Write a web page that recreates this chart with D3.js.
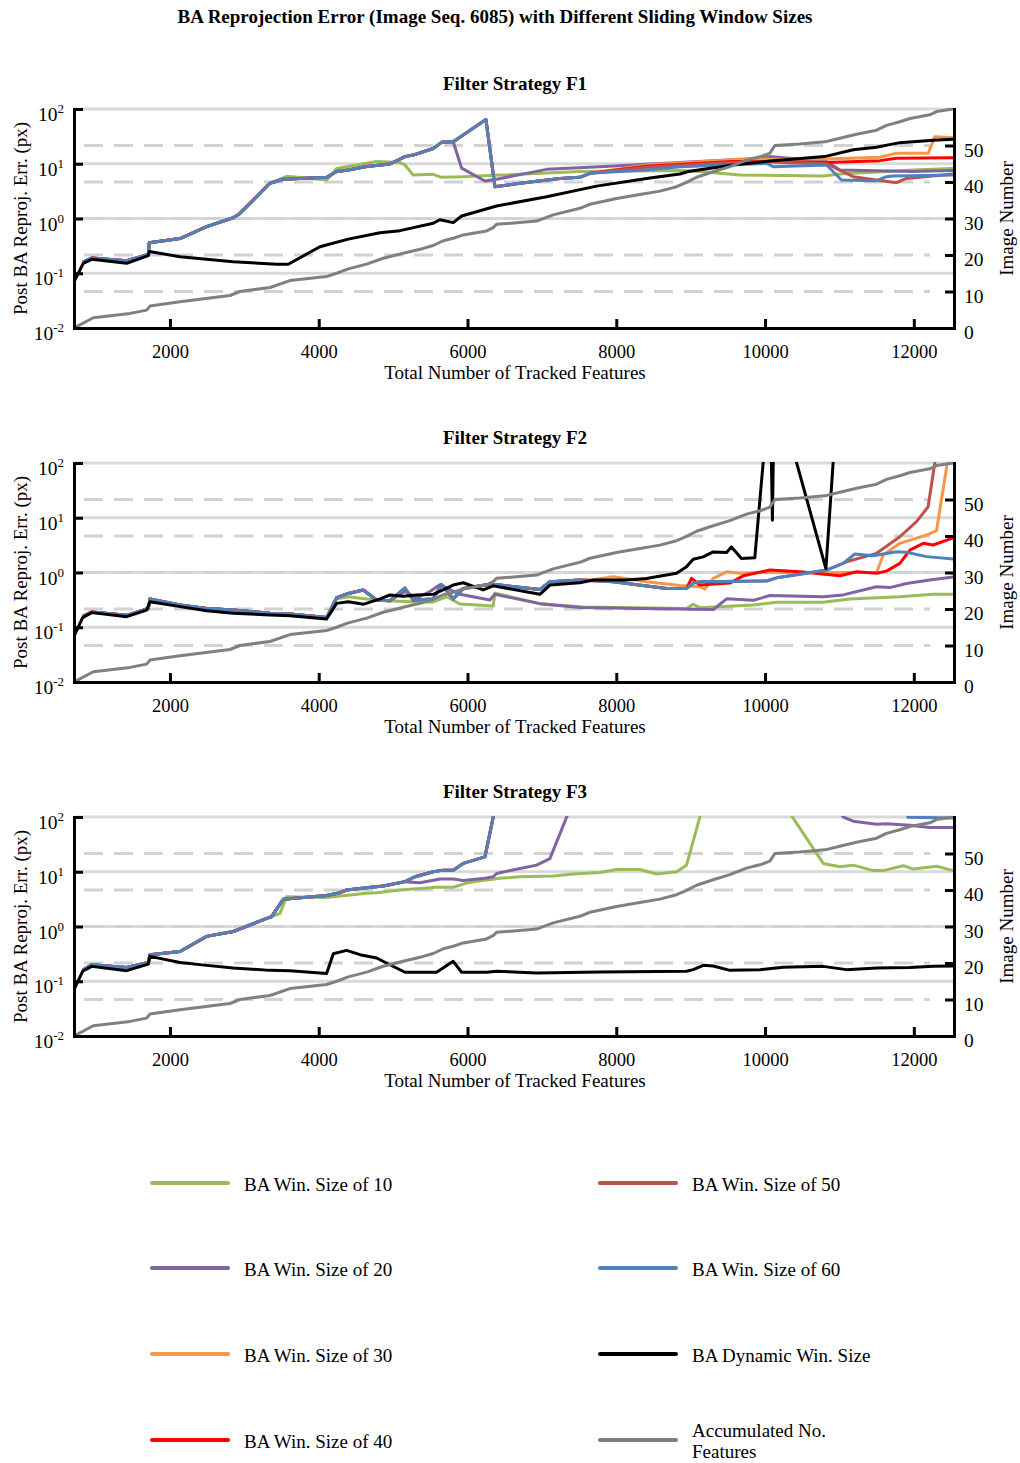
<!DOCTYPE html>
<html><head><meta charset="utf-8">
<script src="https://cdn.jsdelivr.net/npm/d3@7"></script>
<style>body{margin:0;background:#fff}svg{display:block;font-family:"Liberation Serif","Times New Roman",serif}</style>
</head><body><svg id="c" width="1020" height="1463"></svg>
<script>
// ---------------- DATA ----------------
const xTicks = [2000, 4000, 6000, 8000, 10000, 12000];
const logTicks = [0.01, 0.1, 1, 10, 100];
const logExp = ["-2", "-1", "0", "1", "2"];
const imgTicks = [0, 10, 20, 30, 40, 50];
const panelTitles = ["Filter Strategy F1", "Filter Strategy F2", "Filter Strategy F3"];
const seriesNames = ["BA Win. Size of 10", "BA Win. Size of 20", "BA Win. Size of 30", "BA Win. Size of 40",
  "BA Win. Size of 50", "BA Win. Size of 60", "BA Dynamic Win. Size", "Accumulated No. Features"];
const seriesColors = ["#9BBB59", "#8064A2", "#F79646", "#FF0000", "#C0504D", "#4F81BD", "#000000", "#808080"];

// Accumulated image number vs total tracked features (right axis), same in all panels
const imageNumber = [[710,0],[970,2.8],[1463,4.0],[1687,4.9],[1731,6.0],[2135,7.2],[2807,8.9],[2941,10.0],[3344,11.1],[3613,13.0],[4106,14.1],[4241,15.0],[4397,16.2],[4644,17.5],[4867,19.1],[5136,20.5],[5405,21.8],[5539,22.6],[5674,23.9],[5808,24.6],[5942,25.5],[6256,26.6],[6345,27.5],[6390,28.4],[6929,29.3],[7152,31.0],[7511,32.8],[7646,33.9],[8004,35.5],[8317,36.6],[8586,37.5],[8810,38.7],[8945,39.9],[9079,41.3],[9303,42.8],[9527,44.2],[9751,46.0],[9930,46.9],[10065,47.9],[10132,50.0],[10468,50.4],[10804,51.0],[11006,52.0],[11230,53.1],[11499,54.2],[11633,55.5],[11812,56.5],[11947,57.4],[12215,58.4],[12305,59.3],[12528,60]];

// ---- Filter Strategy F1 ----
const f1Win10 = [[830,0.16],[947,0.19],[1418,0.17],[1709,0.22],[1722,0.36],[2135,0.43],[2493,0.71],[2851,1.03],[2941,1.24],[3344,4.4],[3568,5.9],[4106,5.05],[4241,8.2],[4397,8.9],[4778,11],[5092,10.5],[5159,9.5],[5270,6.2],[5539,6.4],[5651,5.65],[5942,5.8],[6436,6.2],[7511,7.2],[8855,7.5],[9124,7.2],[9661,6.2],[10781,6.0],[11006,6.5],[11991,7.7],[12529,8.2]];
const f1Win20 = [[830,0.16],[947,0.19],[1418,0.17],[1709,0.22],[1722,0.36],[2135,0.43],[2493,0.71],[2851,1.03],[2941,1.24],[3344,4.4],[3523,5.2],[4106,5.65],[4241,7.2],[4397,7.7],[4644,8.9],[4957,9.9],[5159,13.5],[5270,14.4],[5539,19],[5651,24.6],[5808,25.3],[5921,8.3],[6234,4.85],[6391,5.2],[7063,7.9],[7780,8.8],[8855,10.5],[9930,12.6],[10065,13.5],[10826,11],[11006,7.7],[11991,7.2],[12529,7.5]];
const f1Win30 = [[830,0.16],[947,0.19],[1418,0.17],[1709,0.22],[1722,0.36],[2135,0.43],[2493,0.71],[2851,1.03],[2941,1.24],[3344,4.4],[3523,5.2],[4106,5.65],[4241,7.2],[4397,7.7],[4644,8.9],[4957,9.9],[5159,13.5],[5270,14.4],[5539,19],[5651,24.6],[5808,25.3],[6248,64],[6369,3.8],[6705,4.4],[7242,5.4],[7511,5.65],[7646,6.7],[8407,9.5],[8855,10.3],[9567,11.8],[10065,12.1],[10826,12.2],[11543,13.1],[11767,15.5],[12193,15.5],[12282,31],[12529,30]];
const f1Win40 = [[830,0.16],[947,0.19],[1418,0.17],[1709,0.22],[1722,0.36],[2135,0.43],[2493,0.71],[2851,1.03],[2941,1.24],[3344,4.4],[3523,5.2],[4106,5.65],[4241,7.2],[4397,7.7],[4644,8.9],[4957,9.9],[5159,13.5],[5270,14.4],[5539,19],[5651,24.6],[5808,25.3],[6248,64],[6369,3.8],[6705,4.4],[7242,5.4],[7511,5.65],[7646,6.7],[8407,9.0],[9567,11],[10065,11],[10826,10.5],[11543,11.4],[11767,12.6],[12529,12.9]];
const f1Win50 = [[830,0.16],[947,0.19],[1418,0.17],[1709,0.22],[1722,0.36],[2135,0.43],[2493,0.71],[2851,1.03],[2941,1.24],[3344,4.4],[3523,5.2],[4106,5.65],[4241,7.2],[4397,7.7],[4644,8.9],[4957,9.9],[5159,13.5],[5270,14.4],[5539,19],[5651,24.6],[5808,25.3],[6248,64],[6369,3.8],[6705,4.4],[7242,5.4],[7511,5.65],[7646,6.7],[8407,8.6],[9567,10.5],[10065,10.8],[10826,10],[11185,5.8],[11498,5.05],[11767,4.5],[11902,5.4],[12529,6.5]];
const f1Win60 = [[830,0.16],[947,0.19],[1418,0.17],[1709,0.22],[1722,0.36],[2135,0.43],[2493,0.71],[2851,1.03],[2941,1.24],[3344,4.4],[3523,5.2],[4106,5.65],[4241,7.2],[4397,7.7],[4644,8.9],[4957,9.9],[5159,13.5],[5270,14.4],[5539,19],[5651,24.6],[5808,25.3],[6248,64],[6369,3.8],[6705,4.4],[7242,5.4],[7511,5.65],[7646,6.7],[8407,7.7],[8855,8.8],[9124,9.1],[10020,10.2],[10110,8.8],[10826,9.5],[11028,5.05],[11498,4.9],[11633,5.8],[11722,6.0],[12529,6.2]];
const f1Dynamic = [[710,0.07],[835,0.152],[948,0.18],[1418,0.152],[1709,0.21],[1722,0.25],[2135,0.2],[2851,0.163],[3434,0.146],[3590,0.146],[4016,0.305],[4397,0.42],[4823,0.55],[5092,0.6],[5539,0.82],[5629,0.95],[5808,0.84],[5921,1.11],[6391,1.69],[7063,2.5],[7735,3.9],[8452,5.5],[8855,6.5],[8967,7.2],[9567,9.5],[10065,11.2],[10800,13.5],[11185,18],[11498,20],[11812,24.3],[12259,27],[12528,28]];

// ---- Filter Strategy F2 ----
const f2Win10 = [[830,0.16],[947,0.19],[1418,0.165],[1709,0.22],[1731,0.327],[2135,0.255],[2493,0.22],[2851,0.206],[3344,0.18],[3613,0.175],[4106,0.15],[4241,0.33],[4397,0.36],[4778,0.31],[5315,0.29],[5539,0.29],[5719,0.36],[5898,0.266],[6346,0.245],[6368,0.42],[6973,0.27],[7556,0.235],[8228,0.228],[8945,0.22],[9034,0.263],[9124,0.228],[9841,0.255],[10155,0.285],[10781,0.285],[11140,0.327],[11812,0.36],[12260,0.4],[12528,0.4]];
const f2Win20 = [[830,0.16],[947,0.19],[1418,0.165],[1709,0.22],[1731,0.327],[2135,0.255],[2493,0.22],[2851,0.206],[3344,0.18],[3613,0.175],[4106,0.15],[4241,0.347],[4397,0.415],[4599,0.478],[4778,0.314],[4957,0.305],[5158,0.45],[5315,0.34],[5495,0.45],[5629,0.6],[5898,0.4],[6301,0.315],[6368,0.40],[6973,0.27],[7511,0.23],[8317,0.22],[9303,0.21],[9483,0.33],[9841,0.31],[10065,0.38],[10781,0.36],[11050,0.39],[11499,0.55],[11678,0.53],[11902,0.63],[12215,0.73],[12528,0.83]];
const f2Win30 = [[830,0.16],[947,0.19],[1418,0.165],[1709,0.22],[1731,0.327],[2135,0.255],[2493,0.22],[2851,0.206],[3344,0.18],[3613,0.175],[4106,0.15],[4241,0.347],[4397,0.415],[4599,0.478],[4778,0.314],[4957,0.305],[5158,0.52],[5270,0.314],[5539,0.327],[5651,0.6],[5808,0.33],[5942,0.51],[6256,0.6],[6436,0.59],[6973,0.49],[7108,0.68],[7511,0.73],[7690,0.74],[7959,0.84],[8407,0.68],[8855,0.58],[9124,0.55],[9190,0.5],[9303,0.78],[9483,1.03],[9662,0.97],[10020,1.0],[10600,1.0],[11499,1.0],[11589,2.1],[11812,3.41],[12171,4.84],[12305,5.8],[12450,100],[12520,400]];
const f2Win40 = [[830,0.16],[947,0.19],[1418,0.165],[1709,0.22],[1731,0.327],[2135,0.255],[2493,0.22],[2851,0.206],[3344,0.18],[3613,0.175],[4106,0.15],[4241,0.347],[4397,0.415],[4599,0.478],[4778,0.314],[4957,0.305],[5158,0.52],[5270,0.314],[5539,0.327],[5651,0.6],[5808,0.33],[5942,0.51],[6256,0.6],[6436,0.59],[6973,0.49],[7108,0.68],[7511,0.73],[7959,0.68],[8676,0.51],[8945,0.51],[9011,0.78],[9124,0.59],[9527,0.64],[9706,0.87],[10065,1.11],[10468,1.03],[11006,0.87],[11230,1.03],[11499,0.97],[11633,1.06],[11812,1.47],[11947,2.57],[12126,3.41],[12260,3.18],[12528,4.3]];
const f2Win50 = [[830,0.16],[947,0.19],[1418,0.165],[1709,0.22],[1731,0.327],[2135,0.255],[2493,0.22],[2851,0.206],[3344,0.18],[3613,0.175],[4106,0.15],[4241,0.347],[4397,0.415],[4599,0.478],[4778,0.314],[4957,0.305],[5158,0.52],[5270,0.314],[5539,0.327],[5651,0.6],[5808,0.33],[5942,0.51],[6256,0.6],[6436,0.59],[6973,0.49],[7108,0.68],[7511,0.73],[7959,0.68],[8676,0.51],[8945,0.51],[9034,0.64],[9124,0.68],[10020,0.70],[10155,0.80],[10468,0.93],[10826,1.11],[11095,1.57],[11499,2.24],[11812,4.5],[12036,8.5],[12192,15.9],[12282,100],[12350,400]];
const f2Win60 = [[830,0.16],[947,0.19],[1418,0.165],[1709,0.22],[1731,0.327],[2135,0.255],[2493,0.22],[2851,0.206],[3344,0.18],[3613,0.175],[4106,0.15],[4241,0.347],[4397,0.415],[4599,0.478],[4778,0.314],[4957,0.305],[5158,0.52],[5270,0.314],[5539,0.327],[5651,0.6],[5808,0.33],[5942,0.51],[6256,0.6],[6436,0.59],[6973,0.49],[7108,0.68],[7511,0.73],[7959,0.68],[8676,0.51],[8945,0.51],[9034,0.64],[9124,0.68],[10020,0.70],[10155,0.80],[10468,0.93],[10826,1.11],[11050,1.47],[11207,2.18],[11454,2.03],[11767,2.4],[11902,2.34],[12171,1.95],[12528,1.77]];
const f2Dynamic = [[710,0.068],[826,0.15],[947,0.185],[1418,0.156],[1687,0.206],[1731,0.293],[2135,0.238],[2493,0.2],[2851,0.18],[3344,0.168],[3613,0.163],[4106,0.142],[4241,0.273],[4397,0.293],[4599,0.262],[4823,0.33],[4957,0.388],[5136,0.37],[5315,0.39],[5539,0.40],[5808,0.59],[5942,0.65],[6212,0.48],[6346,0.57],[6973,0.40],[7108,0.59],[7511,0.65],[7690,0.73],[8138,0.73],[8407,0.78],[8810,0.97],[8945,1.28],[9034,1.74],[9168,1.93],[9303,2.38],[9482,2.31],[9548,2.93],[9683,1.8],[9862,1.85],[10000,250],[10060,10000],[10099,9],[10130,10000],[10290,460],[10818,1.18],[10950,500],[12528,500]];

// ---- Filter Strategy F3 ----
const f3Win10 = [[830,0.16],[947,0.2],[1418,0.178],[1709,0.22],[1731,0.306],[2135,0.35],[2493,0.66],[2851,0.81],[3299,1.41],[3366,1.51],[3479,1.74],[3568,3.5],[4106,3.4],[4644,4.04],[4778,4.15],[5092,4.64],[5584,5.2],[5808,5.2],[5987,6.2],[6256,7.1],[6436,7.6],[6705,8.1],[7153,8.4],[7422,9.1],[7780,9.7],[8004,11],[8317,11],[8542,9.1],[8810,10],[8945,13.2],[9250,420],[10200,220],[10782,14.2],[11006,12.3],[11185,13.2],[11454,10.5],[11589,10.5],[11857,12.9],[11991,11.2],[12305,12.6],[12529,10.5]];
const f3Win20 = [[830,0.16],[947,0.2],[1418,0.178],[1709,0.22],[1731,0.306],[2135,0.35],[2493,0.66],[2851,0.81],[3299,1.41],[3366,1.51],[3523,3.14],[4106,3.67],[4285,4.15],[4375,4.64],[4644,5.1],[4868,5.5],[5159,6.6],[5360,6.3],[5629,7.4],[5808,7.4],[5942,6.9],[6234,7.6],[6346,8.1],[6391,9.3],[6705,11.5],[6929,13.2],[7108,17.4],[7511,400],[10900,200],[11051,100],[11185,84],[11499,73.6],[11633,75.6],[11947,70.5],[12215,64],[12528,64]];
const f3Win30 = [[830,0.16],[947,0.2],[1418,0.178],[1709,0.22],[1731,0.306],[2135,0.35],[2493,0.66],[2851,0.81],[3299,1.41],[3366,1.51],[3523,3.14],[4106,3.67],[4285,4.15],[4375,4.64],[4644,5.1],[4868,5.5],[5159,6.6],[5292,8.1],[5539,10],[5674,10.7],[5808,10.7],[5942,14.2],[6234,18.7],[6400,225],[12528,600]];
const f3Win40 = [[830,0.16],[947,0.2],[1418,0.178],[1709,0.22],[1731,0.306],[2135,0.35],[2493,0.66],[2851,0.81],[3299,1.41],[3366,1.51],[3523,3.14],[4106,3.67],[4285,4.15],[4375,4.64],[4644,5.1],[4868,5.5],[5159,6.6],[5292,8.1],[5539,10],[5674,10.7],[5808,10.7],[5942,14.2],[6234,18.7],[6400,225],[12528,600]];
const f3Win50 = [[830,0.16],[947,0.2],[1418,0.178],[1709,0.22],[1731,0.306],[2135,0.35],[2493,0.66],[2851,0.81],[3299,1.41],[3366,1.51],[3523,3.14],[4106,3.67],[4285,4.15],[4375,4.64],[4644,5.1],[4868,5.5],[5159,6.6],[5292,8.1],[5539,10],[5674,10.7],[5808,10.7],[5942,14.2],[6234,18.7],[6400,225],[12528,600]];
const f3Win60 = [[830,0.16],[947,0.2],[1418,0.178],[1709,0.22],[1731,0.306],[2135,0.35],[2493,0.66],[2851,0.81],[3299,1.41],[3366,1.51],[3523,3.14],[4106,3.67],[4285,4.15],[4375,4.64],[4644,5.1],[4868,5.5],[5159,6.6],[5292,8.1],[5539,10],[5674,10.7],[5808,10.7],[5942,14.2],[6234,18.7],[6400,225],[11850,800],[11920,99],[12528,96]];
const f3Dynamic = [[710,0.07],[826,0.152],[947,0.187],[1418,0.156],[1709,0.206],[1731,0.285],[2135,0.22],[2493,0.195],[2851,0.175],[3344,0.158],[3613,0.156],[4106,0.138],[4196,0.318],[4375,0.366],[4554,0.306],[4778,0.266],[4957,0.2],[5159,0.146],[5584,0.146],[5808,0.231],[5921,0.146],[6257,0.146],[6391,0.152],[6929,0.142],[7780,0.148],[8945,0.152],[9034,0.163],[9169,0.195],[9303,0.19],[9527,0.158],[9931,0.163],[10244,0.18],[10782,0.187],[11095,0.163],[11499,0.175],[11947,0.178],[12260,0.187],[12528,0.19]];

const panelSeries = [
  [f1Win10, f1Win20, f1Win30, f1Win40, f1Win50, f1Win60, f1Dynamic],
  [f2Win10, f2Win20, f2Win30, f2Win40, f2Win50, f2Win60, f2Dynamic],
  [f3Win10, f3Win20, f3Win30, f3Win40, f3Win50, f3Win60, f3Dynamic]
];

// ---------------- DRAW ----------------
const svg = d3.select("#c");
const X0 = 74, X1 = 954, PH = 219, tops = [109, 463, 817];
const x = d3.scaleLinear().domain([710, 12540]).range([X0, X1]);

svg.append("text").attr("x", 495).attr("y", 23).attr("text-anchor", "middle")
  .attr("font-size", 19).attr("font-weight", "bold")
  .text("BA Reprojection Error (Image Seq. 6085) with Different Sliding Window Sizes");

panelSeries.forEach((series, i) => {
  const top = tops[i], bot = top + PH;
  const yL = d3.scaleLog().domain([0.01, 100]).range([bot, top]);
  const yR = d3.scaleLinear().domain([0, 60]).range([bot, top]);
  const g = svg.append("g");

  // solid grid (log axis)
  g.append("g").selectAll("line").data(logTicks.slice(1)).join("line")
    .attr("x1", X0).attr("x2", X1).attr("y1", d => yL(d)).attr("y2", d => yL(d))
    .attr("stroke", "#d9d9d9").attr("stroke-width", 3);
  // dashed grid (image number axis)
  g.append("g").selectAll("line").data(imgTicks.slice(1)).join("line")
    .attr("x1", X0 + 10).attr("x2", X1 - 24).attr("y1", d => yR(d)).attr("y2", d => yR(d))
    .attr("stroke", "#d2d2d2").attr("stroke-width", 3).attr("stroke-dasharray", "19,11");

  const clipId = "clip" + i;
  svg.append("clipPath").attr("id", clipId).append("rect")
    .attr("x", X0).attr("y", top - 1).attr("width", X1 - X0).attr("height", PH + 1);

  const lineL = d3.line().x(d => x(d[0])).y(d => yL(d[1]));
  const lineR = d3.line().x(d => x(d[0])).y(d => yR(d[1]));
  const lg = g.append("g").attr("clip-path", `url(#${clipId})`);
  series.forEach((s, k) => {
    lg.append("path").attr("d", lineL(s)).attr("fill", "none")
      .attr("stroke", seriesColors[k]).attr("stroke-width", 3).attr("stroke-linejoin", "round");
  });
  lg.append("path").attr("d", lineR(imageNumber)).attr("fill", "none")
    .attr("stroke", seriesColors[7]).attr("stroke-width", 3).attr("stroke-linejoin", "round");

  // axes
  const styleAxis = sel => {
    sel.select(".domain").attr("stroke", "#000").attr("stroke-width", 3).attr("stroke-linecap", "square");
    sel.selectAll(".tick line").attr("stroke", "#000").attr("stroke-width", 3);
    sel.selectAll(".tick text").attr("font-size", 18.5).attr("fill", "#000")
      .attr("font-family", '"Liberation Serif","Times New Roman",serif');
  };
  const ax = g.append("g").attr("transform", `translate(0,${bot})`)
    .call(d3.axisBottom(x).tickValues(xTicks).tickSizeInner(-9).tickSizeOuter(0).tickFormat(d3.format("d")));
  styleAxis(ax);
  ax.selectAll(".tick text").attr("y", 17);

  const al = g.append("g").attr("transform", `translate(${X0},0)`)
    .call(d3.axisLeft(yL).tickValues(logTicks).tickSizeInner(-9).tickSizeOuter(0).tickFormat(""));
  styleAxis(al);
  al.selectAll(".tick text").remove();
  logTicks.forEach((v, j) => {
    const t = g.append("text").attr("x", X0 - 10).attr("y", yL(v) + 12).attr("text-anchor", "end")
      .attr("font-size", 19.5);
    t.append("tspan").text("10");
    t.append("tspan").attr("font-size", 13).attr("dy", -8).text(logExp[j]);
  });

  const ar = g.append("g").attr("transform", `translate(${X1},0)`)
    .call(d3.axisRight(yR).tickValues(imgTicks).tickSizeInner(-9).tickSizeOuter(0).tickFormat(d3.format("d")));
  styleAxis(ar);
  ar.selectAll(".tick text").attr("x", 10).attr("dy", "0.55em").attr("font-size", 19.5);

  // titles
  g.append("text").attr("x", 515).attr("y", top - 19).attr("text-anchor", "middle")
    .attr("font-size", 19).attr("font-weight", "bold").text(panelTitles[i]);
  g.append("text").attr("x", 515).attr("y", bot + 51).attr("text-anchor", "middle")
    .attr("font-size", 19).text("Total Number of Tracked Features");
  g.append("text").attr("transform", `translate(27,${(top + bot) / 2}) rotate(-90)`)
    .attr("text-anchor", "middle").attr("font-size", 19).text("Post BA Reproj. Err. (px)");
  g.append("text").attr("transform", `translate(1013,${(top + bot) / 2}) rotate(-90)`)
    .attr("text-anchor", "middle").attr("font-size", 19).text("Image Number");
});

// legend
const legRowY = [1183, 1268, 1354, 1440];
const legColX = [152, 600];
seriesNames.forEach((name, k) => {
  const col = Math.floor(k / 4), row = k % 4;
  const lx = legColX[col], ly = legRowY[row];
  svg.append("line").attr("x1", lx).attr("x2", lx + 76).attr("y1", ly).attr("y2", ly)
    .attr("stroke", seriesColors[k]).attr("stroke-width", 4).attr("stroke-linecap", "round");
  if (k === 7) {
    const t = svg.append("text").attr("x", lx + 92).attr("y", ly - 3).attr("font-size", 19);
    t.append("tspan").attr("x", lx + 92).text("Accumulated No.");
    t.append("tspan").attr("x", lx + 92).attr("dy", 21).text("Features");
  } else {
    svg.append("text").attr("x", lx + 92).attr("y", ly + 8).attr("font-size", 19).text(name);
  }
});
</script></body></html>
